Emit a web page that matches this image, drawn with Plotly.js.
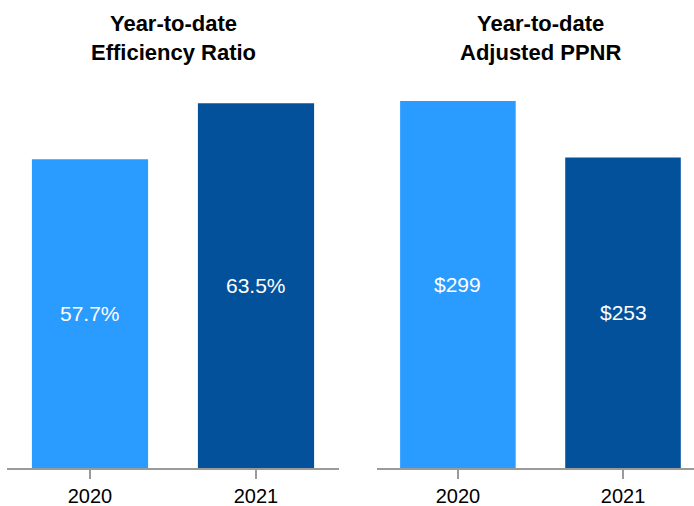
<!DOCTYPE html>
<html>
<head>
<meta charset="utf-8">
<script src="https://cdn.plot.ly/plotly-3.0.1.min.js"></script>
<style>html,body{margin:0;padding:0;background:#fff;}#chart{width:694px;height:506px;}</style>
</head>
<body>
<div id="chart"></div>
<script>
const years = ["2020", "2021"];
const efficiencyRatio = [57.7, 63.5];
const efficiencyLabels = ["57.7%", "63.5%"];
const adjustedPPNR = [299, 253];
const ppnrLabels = ["$299", "$253"];
const titles = ["<b>Year-to-date</b><br><b>Efficiency Ratio</b>", "<b>Year-to-date</b><br><b>Adjusted PPNR</b>"];
const barColors = ["#2A9BFF", "#03519A"];

const font = "Arial, 'Liberation Sans', sans-serif";
const leftRange = [25.7, 65.9];
const rightRange = [0, 316.1];

const traces = [
  {
    type: "bar", x: years, y: efficiencyRatio, textposition: "none", width: 0.7,
    marker: {color: barColors}, xaxis: "x", yaxis: "y", hoverinfo: "none"
  },
  {
    type: "bar", x: years, y: adjustedPPNR, textposition: "none", width: 0.7,
    marker: {color: barColors}, xaxis: "x2", yaxis: "y2", hoverinfo: "none"
  }
];

// value labels centred in the visible part of each bar (x given as category index)
const labelAnns = [];
years.forEach((yr, i) => {
  labelAnns.push({text: efficiencyLabels[i], xref: "x", yref: "y", x: i,
    y: (Math.max(0, leftRange[0]) + efficiencyRatio[i]) / 2, showarrow: false,
    xanchor: "center", yanchor: "middle", font: {family: font, size: 21, color: "#ffffff"}});
  labelAnns.push({text: ppnrLabels[i], xref: "x2", yref: "y2", x: i,
    y: (Math.max(0, rightRange[0]) + adjustedPPNR[i]) / 2, showarrow: false,
    xanchor: "center", yanchor: "middle", font: {family: font, size: 21, color: "#ffffff"}});
});

const xcommon = {
  type: "category", showgrid: false, zeroline: false, showline: true,
  linecolor: "#9a9a9a", linewidth: 2, ticks: "outside", ticklen: 9, tickwidth: 2,
  tickcolor: "#9a9a9a", tickfont: {family: font, size: 20, color: "#000"}, fixedrange: true
};
const ycommon = {showgrid: false, zeroline: false, showline: false, showticklabels: false, ticks: "", fixedrange: true};

const layout = {
  width: 694, height: 506,
  margin: {l: 0, r: 0, t: 80, b: 38},
  paper_bgcolor: "#ffffff", plot_bgcolor: "#ffffff",
  showlegend: false,
  font: {family: font},
  xaxis: Object.assign({}, xcommon, {domain: [7/694, 339/694], range: [-0.5, 1.5], anchor: "y"}),
  xaxis2: Object.assign({}, xcommon, {domain: [377/694, 1], range: [-0.49, 1.43], anchor: "y2"}),
  yaxis: Object.assign({}, ycommon, {range: leftRange, anchor: "x"}),
  yaxis2: Object.assign({}, ycommon, {range: rightRange, anchor: "x2"}),
  annotations: [
    {text: titles[0], xref: "paper", yref: "paper", x: 173.5/694, y: 1.107, xanchor: "center", yanchor: "middle",
     showarrow: false, font: {family: font, size: 22, color: "#000"}},
    {text: titles[1], xref: "paper", yref: "paper", x: 540/694, y: 1.107, xanchor: "center", yanchor: "middle",
     showarrow: false, font: {family: font, size: 22, color: "#000"}}
  ].concat(labelAnns)
};

Plotly.newPlot("chart", traces, layout, {staticPlot: true, displayModeBar: false});
</script>
</body>
</html>
